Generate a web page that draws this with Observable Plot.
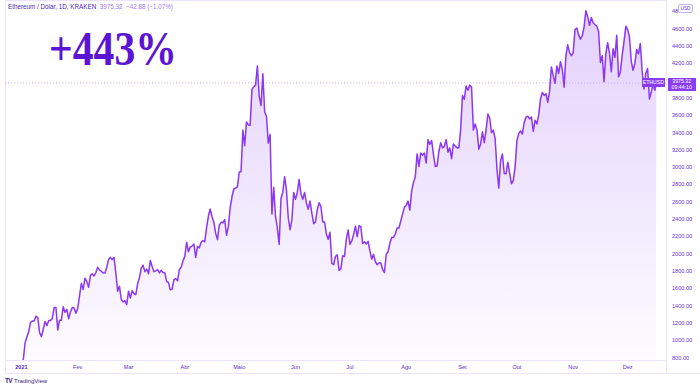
<!DOCTYPE html>
<html><head><meta charset="utf-8">
<script src="https://cdn.jsdelivr.net/npm/d3@7"></script>
<script src="https://cdn.jsdelivr.net/npm/@observablehq/plot@0.6"></script>
<style>
body{margin:0;background:#fff;}
#wrap{position:relative;width:700px;height:389px;overflow:hidden;font-family:"Liberation Sans",Arial,sans-serif;background:#fff;}
#wrap svg{position:absolute;left:0;top:0;}
.abs{position:absolute;white-space:nowrap;}
#hdr{left:8px;top:3px;font-size:6.3px;color:#4b1fb0;}
#hdr span{color:#a27af0;}
#big{left:49px;top:24px;font-family:"Liberation Serif","Times New Roman",serif;font-weight:bold;font-size:49px;color:#5b14d4;transform-origin:0 0;line-height:1;}
.box{background:#8a3cf5;color:#fff;font-size:5.2px;text-align:center;line-height:6px;}
#usd{left:678px;top:4px;width:13px;height:7px;border:0.6px solid #c9b2f5;border-radius:2px;font-size:4.8px;color:#6a35d6;text-align:center;line-height:7px;background:#fff;}
#tv{left:5px;top:377px;font-size:6px;color:#3b1a7a;}
#tv b{font-size:6.5px;letter-spacing:-0.6px;margin-right:2px;}
.ln{position:absolute;background:#ece3fb;}
</style></head><body><div id="wrap"></div>
<script>
// Daily closes (USD), 2021
const jan = [730, 775, 975, 1040, 1100, 1210, 1225, 1225, 1280, 1265, 1090, 1045, 1130, 1220, 1170, 1230, 1230, 1255, 1380, 1380, 1120, 1235, 1235, 1390, 1325, 1360, 1250, 1330, 1380, 1375, 1315];
const feb = [1370, 1515, 1660, 1590, 1720, 1680, 1615, 1750, 1770, 1745, 1785, 1845, 1815, 1800, 1780, 1780, 1845, 1935, 1960, 1935, 1960, 1780, 1570, 1625, 1475, 1445, 1460, 1415];
const mar = [1570, 1490, 1575, 1540, 1530, 1655, 1725, 1835, 1870, 1795, 1825, 1770, 1925, 1855, 1795, 1805, 1820, 1780, 1810, 1785, 1780, 1680, 1670, 1585, 1595, 1700, 1715, 1690, 1820, 1845, 1920];
const apr = [1970, 2135, 2025, 2080, 2090, 2115, 1960, 2085, 2070, 2135, 2155, 2140, 2300, 2435, 2520, 2430, 2365, 2240, 2165, 2330, 2365, 2360, 2395, 2215, 2315, 2535, 2660, 2750, 2760, 2775];
const may = [2945, 2950, 3430, 3250, 3525, 3490, 3485, 3900, 3930, 3950, 4170, 3820, 3715, 4080, 3640, 3590, 3280, 3380, 2460, 2770, 2430, 2300, 2110, 2640, 2710, 2890, 2740, 2420, 2280, 2390, 2710];
const jun = [2630, 2710, 2860, 2690, 2630, 2710, 2590, 2515, 2610, 2470, 2350, 2370, 2510, 2590, 2550, 2370, 2370, 2230, 2170, 2250, 1890, 1875, 1970, 1990, 1810, 1830, 1980, 1970, 2170, 2275];
const jul = [2110, 2150, 2225, 2320, 2200, 2325, 2315, 2120, 2140, 2115, 2145, 2035, 1940, 1995, 1910, 1875, 1895, 1895, 1820, 1785, 1995, 2025, 2125, 2190, 2190, 2230, 2300, 2300, 2380, 2460, 2540];
const aug = [2560, 2610, 2505, 2725, 2825, 2890, 3155, 3010, 3165, 3140, 3165, 3050, 3320, 3265, 3310, 3150, 3010, 3015, 3180, 3285, 3225, 3240, 3320, 3175, 3225, 3100, 3270, 3245, 3225, 3225, 3435];
const sep = [3830, 3785, 3940, 3890, 3950, 3925, 3430, 3500, 3430, 3210, 3270, 3410, 3285, 3430, 3615, 3570, 3400, 3430, 3330, 2980, 2760, 3075, 3155, 2930, 2925, 3060, 2930, 2810, 2850, 3000];
const oct = [3310, 3390, 3420, 3385, 3515, 3580, 3590, 3560, 3580, 3415, 3545, 3500, 3605, 3790, 3865, 3830, 3850, 3750, 3880, 4160, 4060, 3970, 4170, 4085, 4220, 4130, 3925, 4290, 4415, 4325, 4290];
const nov = [4320, 4590, 4610, 4530, 4480, 4520, 4620, 4810, 4740, 4640, 4730, 4670, 4650, 4630, 4570, 4210, 4290, 3990, 4310, 4440, 4320, 4105, 4370, 4270, 4525, 4045, 4100, 4295, 4450, 4630];
const dec = [4590, 4510, 4225, 4120, 4200, 4360, 4310, 4430, 4110, 3905, 4085, 4140, 3790, 3870, 3960, 3890, 3975];

const months = [jan, feb, mar, apr, may, jun, jul, aug, sep, oct, nov, dec];
const monthLabels = ["2021", "Fev", "Mar", "Abr", "Maio", "Jun", "Jul", "Ago", "Set", "Out", "Nov", "Dez"];
const yTicks = [800, 1000, 1200, 1400, 1600, 1800, 2000, 2200, 2400, 2600, 2800, 3000, 3200, 3400, 3600, 3800, 4200, 4400, 4600, 4800];
const yDomain = [769, 4927];
const xDomain = [new Date(Date.UTC(2020, 11, 23, 5)), new Date(Date.UTC(2021, 11, 22, 10))];
const lastPrice = 3975.32;
const headerName = "Ethereum / Dólar, 1D, KRAKEN";
const headerVals = "3975.32  \u221242.88 (\u22121.07%)";
const bigLabel = "+443%";
const countdown = "09:44:10";

const data = [];
months.forEach((arr, m) => arr.forEach((v, i) => data.push({date: new Date(Date.UTC(2021, m, i + 1)), close: v})));
const monthTicks = monthLabels.map((_, m) => new Date(Date.UTC(2021, m, 1)));

const chart = Plot.plot({
  width: 700, height: 373,
  marginLeft: 5, marginRight: 34, marginTop: 0, marginBottom: 13,
  style: {background: "transparent", fontFamily: "Liberation Sans, Arial, sans-serif", fontSize: "5.6px", color: "#6a35d6", overflow: "visible"},
  x: {type: "utc", domain: xDomain, ticks: monthTicks, tickFormat: d => monthLabels[d.getUTCMonth()], tickSize: 0, tickPadding: 4.5, label: null},
  y: {domain: yDomain, axis: "right", ticks: yTicks, tickFormat: d => d.toFixed(2), tickSize: 0, tickPadding: 5.5, label: null},
  marks: [
    Plot.frame({stroke: "#ece3fb"}),
    Plot.areaY(data, {x: "date", y1: yDomain[0], y2: "close", fill: "url(#ethgrad)", clip: true}),
    Plot.ruleY([lastPrice], {stroke: "#c6a3f6", strokeDasharray: "1.2,1.8", strokeWidth: 0.8}),
    Plot.lineY(data, {x: "date", y: "close", stroke: "#8b37f5", strokeWidth: 1.5, clip: true})
  ]
});

const svg = d3.select(chart);
const defs = svg.insert("defs", ":first-child");
const g = defs.append("linearGradient").attr("id", "ethgrad").attr("x1", 0).attr("y1", 0).attr("x2", 0).attr("y2", 1);
g.append("stop").attr("offset", "0%").attr("stop-color", "#a970f5").attr("stop-opacity", 0.32);
g.append("stop").attr("offset", "100%").attr("stop-color", "#a970f5").attr("stop-opacity", 0.02);

svg.selectAll("[aria-label='x-axis tick label'] text").attr("fill", "#5a2dc8");
svg.select("[aria-label='x-axis tick label'] text").attr("font-weight", "bold");

const wrap = document.getElementById("wrap");
const lines = [
  {l: 4.5, t: 0, w: 0.8, h: 373},
  {l: 666, t: 0, w: 0.8, h: 373},
  {l: 4.5, t: 372.6, w: 696, h: 0.8}
];
lines.forEach(o => { const d = document.createElement("div"); d.className = "ln"; Object.assign(d.style, {left: o.l + "px", top: o.t + "px", width: o.w + "px", height: o.h + "px"}); wrap.appendChild(d); });
wrap.appendChild(chart);

const yPos = chart.scale("y").apply(lastPrice);
const add = (id, cls, html, style) => { const d = document.createElement("div"); if (id) d.id = id; d.className = "abs " + (cls || ""); d.innerHTML = html; Object.assign(d.style, style || {}); wrap.appendChild(d); return d; };

add("hdr", "", headerName + " &nbsp;<span>" + headerVals.replace(/  /g, " &nbsp;") + "</span>");
const big = add("big", "", bigLabel);
const bw = big.getBoundingClientRect().width;
big.style.transform = "scaleX(" + (128 / bw) + ")";
add("usd", "", "USD");
add(null, "box", "ETHUSD", {left: "641.7px", top: (yPos - 4.7) + "px", width: "23.3px", height: "9.6px", lineHeight: "9.6px"});
add(null, "box", lastPrice.toFixed(2) + "<br>" + countdown, {left: "667.7px", top: (yPos - 4.7) + "px", width: "28px", height: "13px", paddingTop: "0.5px", lineHeight: "6.2px"});
add("tv", "", "<b>TV</b>TradingView");
</script></body></html>
